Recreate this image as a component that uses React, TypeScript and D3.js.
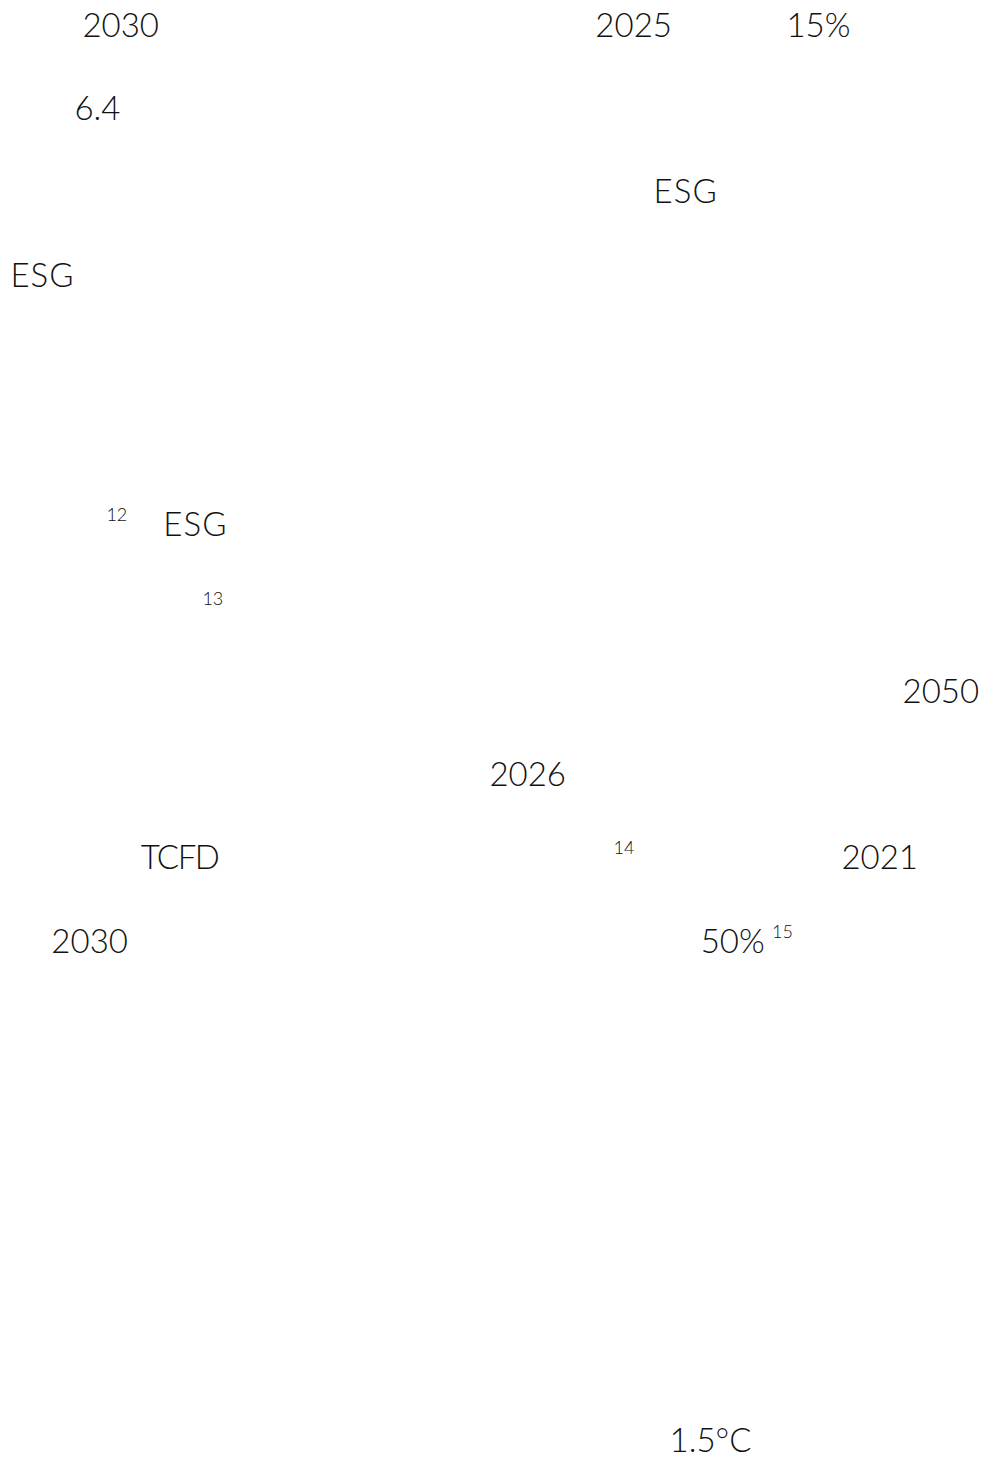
import React, { useEffect, useRef } from "react";
import * as d3 from "d3";

// text fragments that survived on the page (CJK glyphs were dropped in the source)
const labels = ["2030", "2025", "15%", "6.4", "ESG", "ESG", "12", "ESG", "13", "2050", "2026", "TCFD", "14", "2021", "2030", "50%", "15", "1.5°C"];
// line index on the page grid
const lines = [0, 0, 0, 1, 2, 3, 6, 6, 7, 8, 9, 10, 10, 10, 11, 11, 11, 17];
// horizontal column (in character cells)
const cols = [2.2, 18.23, 24.2, 1.95, 20.05, -0.05, 2.95, 4.73, 5.95, 27.83, 14.92, 4.02, 18.8, 25.92, 1.23, 21.52, 23.75, 20.55];
// superscript footnote markers
const supers = [false, false, false, false, false, false, true, false, true, false, false, false, true, false, false, false, true, false];
const tracking: Record<string, number> = { ESG: 1, TCFD: -1.5 };

export default function App() {
    const ref = useRef<SVGSVGElement>(null);
    const width = 989;
    const height = 1461;

    useEffect(() => {
        const svg = d3.select(ref.current);
        svg.selectAll("*").remove();

        const yScale = d3.scaleLinear().domain([0, 17]).range([37, 1452]);
        const xScale = d3.scaleLinear().domain([0, 1]).range([12, 44]);

        svg.append("rect").attr("width", width).attr("height", height).attr("fill", "#fff");

        const data = labels.map((t, i) => ({ t, line: lines[i], col: cols[i], sup: supers[i] }));

        svg
            .append("g")
            .selectAll("text")
            .data(data)
            .enter()
            .append("text")
            .attr("x", (d) => xScale(d.col))
            .attr("y", (d) => yScale(d.line) - (d.sup ? 15 : 0))
            .attr("font-family", "Lato, 'Noto Sans', sans-serif")
            .attr("font-weight", 300)
            .attr("font-size", (d) => (d.sup ? 18 : 33))
            .attr("letter-spacing", (d) => tracking[d.t] ?? 0)
            .attr("fill", "#111")
            .text((d) => d.t);
    }, []);

    return (
        <svg
            ref={ref}
            width={width}
            height={height}
            style={{ position: "absolute", top: 0, left: 0, display: "block" }}
        ></svg>
    );
}
